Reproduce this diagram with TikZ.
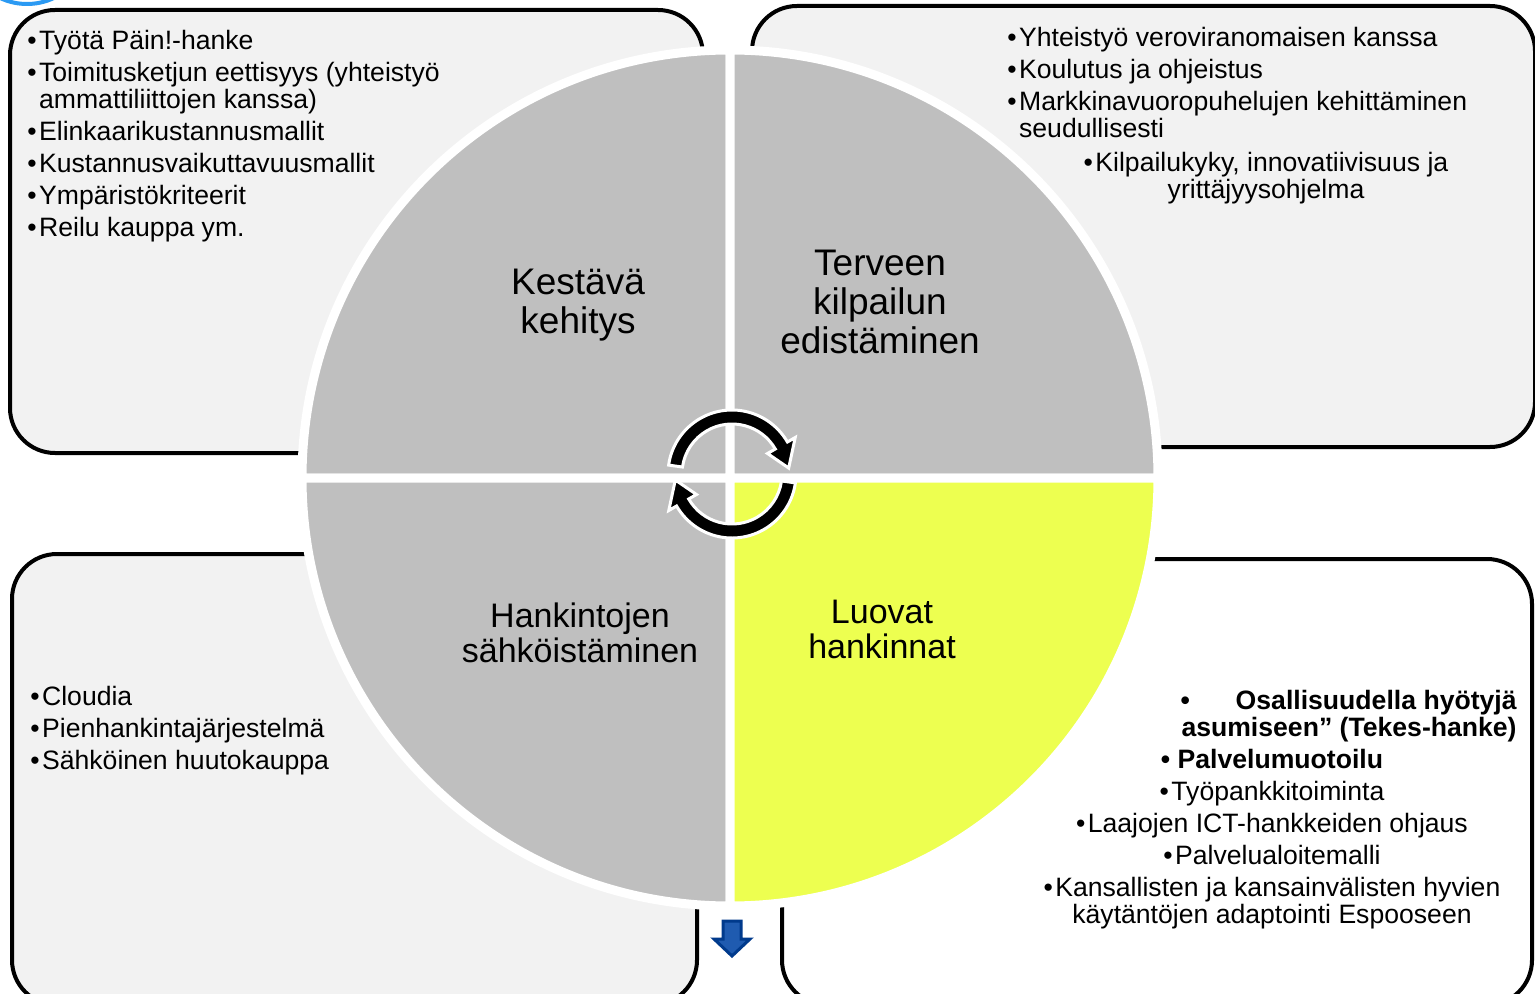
\documentclass[tikz,border=0pt]{standalone}
\usepackage{fontspec}
\setmainfont{Liberation Sans}
\definecolor{boxgray}{HTML}{F2F2F2}
\definecolor{qgray}{HTML}{BFBFBF}
\definecolor{qyellow}{HTML}{EDFF50}
\definecolor{arcblue}{HTML}{2B9AF3}
\definecolor{blu}{HTML}{1F5BB0}
\definecolor{bludark}{HTML}{003A8C}
\newcommand\mybul{•\hspace{1.2pt}}
\begin{document}
\begin{tikzpicture}[x=0.5pt,y=0.5pt,
  box/.style={draw=black, line width=2pt, rounded corners=22.5pt},
  quad/.style={draw=white, line width=4.5pt, line join=miter},
  lst/.style={inner sep=0pt, font=\fontsize{13.3}{13.5}\selectfont, align=left, anchor=base west},
  lbl/.style={inner sep=0pt, align=center, font=\fontsize{18.5}{19.5}\selectfont},
  lbltwo/.style={inner sep=0pt, align=center, font=\fontsize{17}{17.5}\selectfont},
  cyc/.style={fill=black, draw=white, line width=1.5pt, line join=miter},
  downarrow/.style={fill=blu, draw=bludark, line width=1.5pt, line join=miter}]
\useasboundingbox (0,0) rectangle (1535,-994);
\clip (0,0) rectangle (1535,-994);
\fill[white] (0,0) rectangle (1535,-994);
\draw[arcblue, line width=2pt] (27,59) circle[radius=63];

% boxes
\draw[box, fill=boxgray] (10,-10) rectangle (703,-453);
\draw[box, fill=boxgray] (752,-6) rectangle (1535,-447);
\draw[box, fill=boxgray] (12,-554) rectangle (697,-1005);
\draw[box, fill=white] (782,-559) rectangle (1532,-1005);

% quadrants
\coordinate (C) at (730,-478);
\filldraw[quad, fill=qgray] (C) -- ++(180:428) arc[start angle=180, end angle=90, radius=428] -- cycle;
\filldraw[quad, fill=qgray] (C) -- ++(90:428) arc[start angle=90, end angle=0, radius=428] -- cycle;
\filldraw[quad, fill=qgray] (C) -- ++(270:428) arc[start angle=270, end angle=180, radius=428] -- cycle;
\filldraw[quad, fill=qyellow] (C) -- ++(0:428) arc[start angle=0, end angle=-90, radius=428] -- cycle;

% quadrant labels
\node[lbl] (tlLabel) at (578,-305) {Kestävä\\kehitys};
\node[lbl] (trLabel) at (880,-302) {Terveen\\kilpailun\\edistäminen};
\node[lbltwo] (blLabel) at (580,-633) {Hankintojen\\sähköistäminen};
\node[lbltwo] (brLabel) at (882,-629) {Luovat\\hankinnat};

% cycle arrows
\begin{scope}[shift={(732,-474)}]
\filldraw[cyc] (172:64) arc[start angle=172, end angle=30, radius=64] -- (30:73) -- (6:57) -- (30:41) -- (30:50) arc[start angle=30, end angle=172, radius=50] -- cycle;
\filldraw[cyc] (-8:64) arc[start angle=-8, end angle=-150, radius=64] -- (-150:73) -- (-174:57) -- (-150:41) -- (-150:50) arc[start angle=-150, end angle=-8, radius=50] -- cycle;
\end{scope}

% lists (base anchor = baseline of last line)
\node[lst] (tlList) at (27,-237) {\mybul Työtä Päin!-hanke\\[2.5pt]
\mybul Toimitusketjun eettisyys (yhteistyö\\
\phantom{\mybul}ammattiliittojen kanssa)\\[2.5pt]
\mybul Elinkaarikustannusmallit\\[2.5pt]
\mybul Kustannusvaikuttavuusmallit\\[2.5pt]
\mybul Ympäristökriteerit\\[2.5pt]
\mybul Reilu kauppa ym.};

\node[lst] (trList) at (1007,-138) {\mybul Yhteistyö veroviranomaisen kanssa\\[2.5pt]
\mybul Koulutus ja ohjeistus\\[2.5pt]
\mybul Markkinavuoropuhelujen kehittäminen\\
\phantom{\mybul}seudullisesti};
\node[lst, align=center, anchor=base] (trListB) at (1266,-199) {\mybul Kilpailukyky, innovatiivisuus ja\\yrittäjyysohjelma};

\node[lst] (blList) at (30,-769) {\mybul Cloudia\\[2.5pt]
\mybul Pienhankintajärjestelmä\\[2.5pt]
\mybul Sähköinen huutokauppa};

\node[lst, font=\fontsize{13.3}{13.5}\selectfont\bfseries, align=right, anchor=base east] (brBold) at (1517,-736) {\makebox[168pt][l]{•\hfill Osallisuudella hyötyjä}\\asumiseen” (Tekes-hanke)};
\node[lst, align=center, anchor=base] (brList) at (1272,-923) {\textbf{• Palvelumuotoilu}\\[2.5pt]
\mybul Työpankkitoiminta\\[2.5pt]
\mybul Laajojen ICT-hankkeiden ohjaus\\[2.5pt]
\mybul Palvelualoitemalli\\[2.5pt]
\mybul Kansallisten ja kansainvälisten hyvien\\
käytäntöjen adaptointi Espooseen};

% blue down arrow
\filldraw[downarrow] (723,-921) -- (741,-921) -- (741,-939) -- (750,-939) -- (732,-956) -- (714,-939) -- (723,-939) -- cycle;
\end{tikzpicture}
\end{document}
